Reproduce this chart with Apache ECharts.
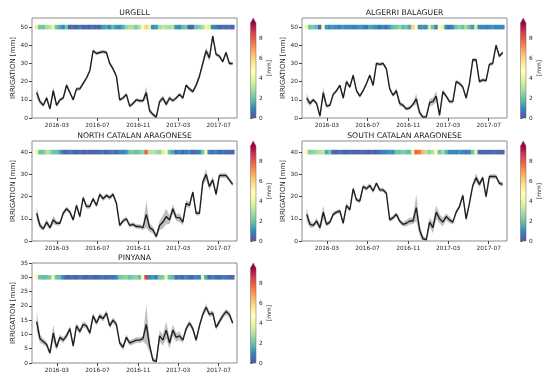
<!DOCTYPE html>
<html><head><meta charset="utf-8">
<script src="https://cdn.jsdelivr.net/npm/echarts@6/dist/echarts.min.js"></script>
<style>html,body{margin:0;padding:0;background:#fff}#c{width:550px;height:379px}</style>
</head><body><div id="c"></div>
<script>
// ---- data ----
const dates = ['2015-12-31','2016-01-10','2016-01-20','2016-01-30','2016-02-09','2016-02-19','2016-02-29','2016-03-10','2016-03-20','2016-03-30',
'2016-04-09','2016-04-19','2016-04-29','2016-05-09','2016-05-19','2016-05-29','2016-06-08','2016-06-18','2016-06-28','2016-07-08',
'2016-07-18','2016-07-28','2016-08-07','2016-08-17','2016-08-27','2016-09-06','2016-09-16','2016-09-26','2016-10-06','2016-10-16',
'2016-10-26','2016-11-05','2016-11-15','2016-11-25','2016-12-05','2016-12-15','2016-12-25','2017-01-04','2017-01-14','2017-01-24',
'2017-02-03','2017-02-13','2017-02-23','2017-03-05','2017-03-15','2017-03-25','2017-04-04','2017-04-14','2017-04-24','2017-05-04',
'2017-05-14','2017-05-24','2017-06-03','2017-06-13','2017-06-23','2017-07-03','2017-07-13','2017-07-23','2017-08-02','2017-08-12'];
const tickLabels = ['2016-03','2016-07','2016-11','2017-03','2017-07'];
const titles = ['URGELL','ALGERRI BALAGUER','NORTH CATALAN ARAGONESE','SOUTH CATALAN ARAGONESE','PINYANA'];

const urgell = [14,9,7,11,5,15,7,10,11,18, 14,10,16,16,19,22,26,37,35.5,36, 36.5,36,30,27,23,10,11,13,6.5,8, 10,9.5,9.5,14,4,2,0.5,9,11,7.5, 11,9.5,11,13,11,18,16,14.5,18,23, 30,37,33,45,35,34,31,36,30,30];
const urgellSpread = [3,1.5,1,1.5,1,2.5,1,1,1,1.5, 1,1,1,1,1,1,1,1,1,1, 1,1,1,1,1,1,1,1,1,1, 1,1,1,3.5,1.5,1,1,1.5,1.5,1.5, 1.2,1,1,1,1.2,1,1,1,1.5,1.5, 1.5,2,2,1.5,1,1,1,1,1,1];
const urgellStrip = [5.5,2,2,2.8,3,4,2,1.5,1,2, 0.3,0.5,0.2,0.8,0.3,0.5,0.2,0.6,0.4,0.3, 1.2,1.5,1,1.8,1.2,1,1.5,2.5,3,2.8, 2.2,3,4.5,6,3.8,1,1.2,2.8,3.2,3, 2.8,3,1.2,1,1.8,2,0.3,0.5,2,2.2, 2.8,4,3.8,1,0.8,0.3,0.5,0.4,0.6,0.3];

const algerri = [11,8,10,8,1,14,6.5,7,13,15, 18,11,20,17,23.5,15,12,15,19,23.5, 18,30,29.5,30,27,16,12.5,15,8,7, 5,5.5,7.5,10.5,3,0.5,0.5,8.5,9,12, 1.5,14.5,12,9,9,20,19,17,11,19, 32,32,20,21,20.5,29.5,30,40,34,36];
const algerriSpread = [2.5,1.5,1,1,1,3,1,1,1,1, 1,1,1,1,1,1,1,1,1,1, 1,1,1,1,1,1,1,1.5,1.5,1, 1,1,1,3,1.5,1,1,2,2,3, 1.5,1.5,1,1,1,1,1,1,1,1, 1,1.2,1,1,1,1,1,1,1,1];
const algerriStrip = [4.2,2,2.2,1.8,0.3,4.5,1.2,1,1.2,1, 0.8,1.2,1,1,0.8,1,1.2,1,0.6,1.4, 1.2,1,0.5,1,0.6,1.2,1.8,2,2.5,1.8, 2,1.5,6,4.5,1,1.2,1,3.5,2,0.8, 4.5,4,1,0.5,1,2,2.5,2,2.8,1.8, 1.2,3.5,1,1,0.8,1,1.2,0.8,1,1];

const north = [12.5,7,5.5,8.5,6,9.5,8,8,12.5,14.5, 13,9.5,16,11,19.5,15.5,15.5,19,16,21, 19,20.5,19.5,21,17,7,9,10,7,7.5, 6.5,6.5,6,12,6,5,2,7,8.5,11, 9.5,14.5,10.5,10.5,8.5,17,16,22,12.5,12.5, 26.5,30,24.5,27.5,21,29.5,29.5,29.5,27.5,25.5];
const northSpread = [3,1.5,1,1.5,1,2,1,1,1,1, 1,1,1,1,1,1,1,1,1,1, 1,1,1,1,1,1,1,1,1,1, 1,1,1,6,2,1.5,1,2,3,3.5, 2,2,1.5,2,1.5,1.5,1.5,1,1,1, 1.5,2.5,1.5,1.5,1,1,1,1,1,1];
const northStrip = [4.2,2,2,3,2.8,2,2,1.5,0.5,0.3, 0.8,0.4,0.3,0.6,0.2,0.5,0.3,0.2,0.4,0.3, 0.6,0.3,0.5,0.8,0.4,1,0.8,1.2,2,2.2, 1.8,2.2,2.5,7.8,3,3.2,2.8,2.5,3.5,4.5, 2,1.5,0.5,1,0.4,0.8,1,0.3,0.6,0.8, 2,4.2,0.8,0.5,1,0.3,0.6,0.4,0.5,0.3];

const south = [12,7.5,7,9,6,13,7.5,8.5,12,13, 13.5,8,16,14,23.5,18.5,18,24.5,23.5,25, 22.5,26,23,23,21.5,9.5,10.5,12,9,7.5, 8,9,9,15,5,1,0.5,8.5,6,13, 10,8.5,11,9.5,8.5,13,15.5,20.5,10,17, 25,28.5,25.5,28.5,20,29,29,29,26,25.5];
const southSpread = [3,1.5,1,1.5,1.5,3,1,1,1,1, 1,1,1,1,1,1,1,1,1,1, 1,1,1,1,1,1,1,1,1,1, 1.5,1.5,1.5,6,2.5,1.5,1,2,2.5,3, 2,2,1.5,1.5,1,1,1,1,1.5,1, 1,2,1.5,1,1,1,1,1,1,1];
const southStrip = [4.2,2.2,2.5,2.8,3,3.2,1.5,2,0.5,0.3, 0.6,0.4,0.3,0.5,0.2,0.4,0.3,0.5,0.3,0.2, 0.4,0.3,0.6,0.8,1,1.2,1,2,2,2.2, 2,1.8,4,7.8,7.5,6.5,3,2.5,3,4.5, 2,2.8,1.8,1,1,0.8,1.2,1,0.6,1, 2,4,0.4,0.3,0.5,0.3,0.6,0.4,0.5,0.3];

const pinyana = [14.5,8.5,7.5,6.5,3.5,10.5,5.5,9,8,9.5, 12,6,13,11,13.5,13,10.5,16.5,14,16.5, 15.5,17.5,13,15,13.5,7,5.5,9,7,7.5, 8,8,8.5,13.5,6,1,0.5,9.5,8,11.5, 7,11.5,9,9.5,8,12,14,12,8,13, 17,19.5,17,17.5,12.5,14.5,16.5,18,17,14];
const pinyanaSpread = [3.5,1.5,1,1,1,3,1,1,1,1, 1,1,1,1,1,1,1,1,1,1, 1,1,1,1,1,1,1,1,1,1, 1,1,1,7,2,1,1,2,2,3, 2,2,1.5,1.5,1,1,1,1,1,1, 1,1.2,1,1,1,1,1,1,1,1];
const pinyanaStrip = [5,2,1.8,2,2.2,4.3,2,1.8,1,0.4, 0.3,0.5,0.3,0.8,0.4,0.3,0.6,0.4,0.3,0.5, 0.8,0.4,0.6,0.5,1,2,2.2,2.5,2,2.2, 2.5,2,4.5,8.5,1,1.2,0.8,2,2.2,4, 2,1.8,0.5,0.8,0.4,1,0.6,0.3,1,0.8, 4,1.5,0.4,1,0.5,0.3,0.8,0.6,0.4,0.5];

const stripLevel = [50,50,40,40,30];
const yMax = [55,55,45,45,35];
const yTicks = [[0,10,20,30,40,50],[0,10,20,30,40,50],[0,10,20,30,40],[0,10,20,30,40],[0,5,10,15,20,25,30,35]];
const cbTicks = [0,2,4,6,8];
const cbMax = 9.5;
const spectralR = ['#5e4fa2','#3288bd','#66c2a5','#abdda4','#e6f598','#ffffbf','#fee08b','#fdae61','#f46d43','#d53e4f','#9e0142'];

const values = [urgell, algerri, north, south, pinyana];
const spreads = [urgellSpread, algerriSpread, northSpread, southSpread, pinyanaSpread];
const strips = [urgellStrip, algerriStrip, northStrip, southStrip, pinyanaStrip];

// ---- layout ----
const panels = [
  {left:32, top:18, width:205, height:100, cb:250.5},
  {left:302, top:18, width:205, height:100, cb:520.5},
  {left:32, top:141, width:205, height:100, cb:250.5},
  {left:302, top:141, width:205, height:100, cb:520.5},
  {left:32, top:263, width:205, height:100, cb:250.5}
];
const DAY = 86400000;
const T = s => Date.UTC(+s.slice(0,4), +s.slice(5,7)-1, +s.slice(8,10)) / DAY;  // days since epoch
const tickVals = tickLabels.map(l => T(l + '-01'));
const FONT = 'DejaVu Sans';
const TXT = '#262626';

const grid = [], xAxis = [], yAxis = [], series = [], graphic = [];
const stripIdx = [];
panels.forEach((p, i) => {
  grid.push({left:p.left, top:p.top, width:p.width, height:p.height, show:true, borderColor:'#8c8c8c', borderWidth:1, containLabel:false, outerBoundsMode:'none'});
  xAxis.push({type:'value', gridIndex:i, min:T('2015-12-17'), max:T('2017-08-25'), scale:true,
    axisLine:{show:false}, splitLine:{show:false},
    axisTick:{show:true, length:3, lineStyle:{color:'#444'}, customValues:tickVals},
    axisLabel:{customValues:tickVals, fontSize:5.8, color:TXT, margin:4, fontFamily:FONT,
      formatter:(v)=>{let b=0;for(let k=1;k<tickVals.length;k++){if(Math.abs(tickVals[k]-v)<Math.abs(tickVals[b]-v))b=k;}return tickLabels[b];}}});
  yAxis.push({type:'value', gridIndex:i, min:0, max:yMax[i],
    axisLine:{show:false}, splitLine:{show:false},
    axisTick:{show:true, length:3, lineStyle:{color:'#444'}, customValues:yTicks[i]},
    axisLabel:{customValues:yTicks[i], fontSize:5.8, color:TXT, margin:4, fontFamily:FONT},
    name:'IRRIGATION [mm]', nameLocation:'middle', nameGap:15.5,
    nameTextStyle:{fontSize:7, color:TXT, fontFamily:FONT}});
  graphic.push({type:'text', x:p.left + p.width/2, y:p.top - 5,
    style:{text:titles[i], textAlign:'center', textVerticalAlign:'middle', fontSize:7.7, fill:'#1a1a1a', fontFamily:FONT}});
});
panels.forEach((p, i) => {
  grid.push({left:p.cb, top:p.top, width:5.5, height:p.height, show:false, containLabel:false, outerBoundsMode:'none'});
  xAxis.push({type:'value', gridIndex:5+i, min:0, max:1, show:false});
  yAxis.push({type:'value', gridIndex:5+i, min:0, max:10, position:'right',
    axisLine:{show:false}, splitLine:{show:false},
    axisTick:{show:true, length:2, lineStyle:{color:'#444'}, customValues:cbTicks},
    axisLabel:{customValues:cbTicks, fontSize:5.8, color:TXT, margin:3, fontFamily:FONT},
    name:'[mm]', nameLocation:'middle', nameGap:8, nameTextStyle:{fontSize:6, color:TXT, fontFamily:FONT}});
});

panels.forEach((p, i) => {
  const v = values[i], s = spreads[i], st = strips[i];
  const bandData = dates.map((d,k)=>[T(d), v[k]-s[k], v[k]+s[k]]);
  // uncertainty band: one polygon through the library's coordinate conversion
  series.push({type:'custom', xAxisIndex:i, yAxisIndex:i, silent:true, clip:true, z:1,
    data:bandData, encode:{x:0, y:[1,2]},
    renderItem:(params, api)=>{
      if (params.dataIndex !== 0) return null;
      const upper = bandData.map(r=>api.coord([r[0], r[2]]));
      const lower = bandData.map(r=>api.coord([r[0], r[1]])).reverse();
      return {type:'polygon', shape:{points:upper.concat(lower)}, style:{fill:'#c0c0c0', stroke:null}};
    }});
  series.push({type:'line', xAxisIndex:i, yAxisIndex:i, silent:true,
    data:dates.map((d,k)=>[T(d), v[k]]), symbol:'none', lineStyle:{color:'#1f1f1f', width:1.4}, z:2});
  stripIdx.push(series.length);
  series.push({type:'scatter', xAxisIndex:i, yAxisIndex:i, silent:true,
    data:dates.map((d,k)=>[T(d), stripLevel[i], st[k]]), symbol:'rect', symbolSize:[3.8,4.6],
    itemStyle:{opacity:1}, z:3});
});
const stops = spectralR.map((c,k)=>({offset:k/(spectralR.length-1), color:c}));
panels.forEach((p, i) => {
  series.push({type:'custom', xAxisIndex:5+i, yAxisIndex:5+i, silent:true, data:[[0, cbMax]],
    renderItem:(params, api)=>{
      const a = api.coord([0,0]), b = api.coord([1, api.value(1)]), c = api.coord([1,10]);
      const mx = (a[0]+b[0])/2;
      return {type:'group', children:[
        {type:'rect', shape:{x:a[0], y:b[1], width:b[0]-a[0], height:a[1]-b[1]},
          style:{fill:{type:'linear', x:0, y:1, x2:0, y2:0, colorStops:stops}}},
        {type:'polygon', shape:{points:[[a[0],b[1]],[b[0],b[1]],[mx,c[1]]]}, style:{fill:spectralR[spectralR.length-1]}},
        {type:'polyline', shape:{points:[[a[0],a[1]],[a[0],b[1]],[mx,c[1]],[b[0],b[1]],[b[0],a[1]],[a[0],a[1]]]},
          style:{stroke:'#666', lineWidth:0.5, fill:null}}
      ]};
    }});
});

const chart = echarts.init(document.getElementById('c'), null, {renderer:'canvas'});
chart.setOption({
  animation:false,
  backgroundColor:'#fff',
  textStyle:{fontFamily:FONT},
  grid, xAxis, yAxis, series, graphic,
  visualMap:{type:'continuous', show:false, min:0, max:cbMax, dimension:2, seriesIndex:stripIdx, inRange:{color:spectralR}}
});
</script>
</body></html>
